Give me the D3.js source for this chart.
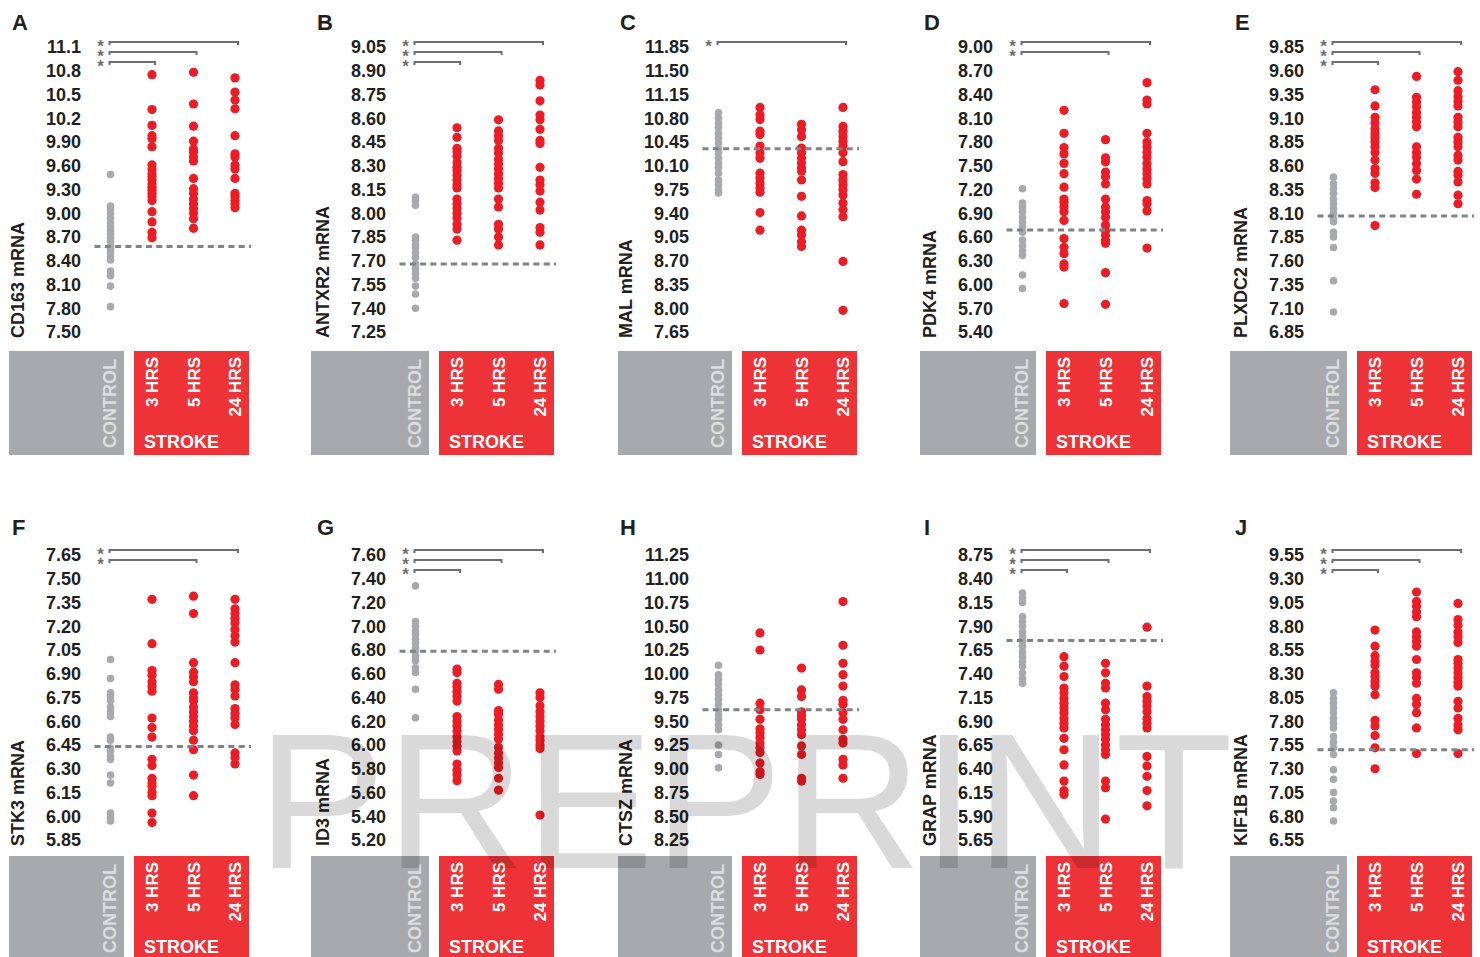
<!DOCTYPE html>
<html>
<head>
<meta charset="utf-8">
<script src="https://cdn.jsdelivr.net/npm/d3@7"></script>
<style>
  body { margin: 0; background: #fff; }
  svg { display: block; font-family: "Liberation Sans", Arial, sans-serif; }
</style>
</head>
<body>
<div id="chart"></div>
<script>
// groups on the x axis of every panel
const groups = ["CONTROL", "3 HRS", "5 HRS", "24 HRS"];
const letters = ["A", "B", "C", "D", "E", "F", "G", "H", "I", "J"];
const genes = ["CD163", "ANTXR2", "MAL", "PDK4", "PLXDC2", "STK3", "ID3", "CTSZ", "GRAP", "KIF1B"];

// tick labels, top to bottom
const ticksCD163 = ["11.1", "10.8", "10.5", "10.2", "9.90", "9.60", "9.30", "9.00", "8.70", "8.40", "8.10", "7.80", "7.50"];
const ticksANTXR2 = ["9.05", "8.90", "8.75", "8.60", "8.45", "8.30", "8.15", "8.00", "7.85", "7.70", "7.55", "7.40", "7.25"];
const ticksMAL = ["11.85", "11.50", "11.15", "10.80", "10.45", "10.10", "9.75", "9.40", "9.05", "8.70", "8.35", "8.00", "7.65"];
const ticksPDK4 = ["9.00", "8.70", "8.40", "8.10", "7.80", "7.50", "7.20", "6.90", "6.60", "6.30", "6.00", "5.70", "5.40"];
const ticksPLXDC2 = ["9.85", "9.60", "9.35", "9.10", "8.85", "8.60", "8.35", "8.10", "7.85", "7.60", "7.35", "7.10", "6.85"];
const ticksSTK3 = ["7.65", "7.50", "7.35", "7.20", "7.05", "6.90", "6.75", "6.60", "6.45", "6.30", "6.15", "6.00", "5.85"];
const ticksID3 = ["7.60", "7.40", "7.20", "7.00", "6.80", "6.60", "6.40", "6.20", "6.00", "5.80", "5.60", "5.40", "5.20"];
const ticksCTSZ = ["11.25", "11.00", "10.75", "10.50", "10.25", "10.00", "9.75", "9.50", "9.25", "9.00", "8.75", "8.50", "8.25"];
const ticksGRAP = ["8.75", "8.40", "8.15", "7.90", "7.65", "7.40", "7.15", "6.90", "6.65", "6.40", "6.15", "5.90", "5.65"];
const ticksKIF1B = ["9.55", "9.30", "9.05", "8.80", "8.55", "8.30", "8.05", "7.80", "7.55", "7.30", "7.05", "6.80", "6.55"];

// mRNA values per group: control, 3 hrs, 5 hrs, 24 hrs
const valuesCD163 = [
  [9.49, 9.09, 9.05, 9.00, 8.94, 8.88, 8.83, 8.78, 8.74, 8.69, 8.65, 8.59, 8.55, 8.50, 8.45, 8.41, 8.27, 8.21, 8.08, 7.82],
  [10.75, 10.31, 10.11, 9.98, 9.94, 9.84, 9.61, 9.56, 9.50, 9.46, 9.42, 9.37, 9.33, 9.29, 9.25, 9.21, 9.16, 9.02, 8.89, 8.76, 8.69],
  [10.78, 10.38, 10.10, 9.91, 9.81, 9.77, 9.71, 9.66, 9.44, 9.31, 9.25, 9.18, 9.12, 9.06, 9.00, 8.93, 8.81],
  [10.71, 10.53, 10.43, 10.32, 9.98, 9.75, 9.71, 9.61, 9.56, 9.44, 9.25, 9.21, 9.16, 9.12, 9.07]
];
const valuesANTXR2 = [
  [8.10, 8.08, 8.05, 7.85, 7.83, 7.80, 7.78, 7.75, 7.72, 7.68, 7.65, 7.62, 7.59, 7.54, 7.49, 7.40],
  [8.54, 8.48, 8.41, 8.39, 8.36, 8.32, 8.29, 8.27, 8.24, 8.21, 8.18, 8.16, 8.09, 8.06, 8.03, 8.00, 7.97, 7.93, 7.90, 7.83],
  [8.59, 8.52, 8.49, 8.46, 8.41, 8.38, 8.34, 8.31, 8.28, 8.25, 8.22, 8.19, 8.16, 8.09, 8.04, 7.93, 7.90, 7.85, 7.80],
  [8.84, 8.81, 8.71, 8.62, 8.59, 8.53, 8.46, 8.44, 8.29, 8.21, 8.18, 8.14, 8.07, 8.02, 7.91, 7.88, 7.80]
];
const valuesMAL = [
  [10.88, 10.80, 10.73, 10.66, 10.58, 10.51, 10.44, 10.36, 10.29, 10.21, 10.14, 10.07, 9.99, 9.89, 9.82, 9.75, 9.70],
  [10.96, 10.85, 10.78, 10.61, 10.56, 10.39, 10.29, 10.21, 9.99, 9.92, 9.84, 9.77, 9.71, 9.41, 9.15],
  [10.71, 10.63, 10.53, 10.36, 10.29, 10.21, 10.14, 10.07, 10.02, 9.89, 9.65, 9.36, 9.15, 9.08, 8.98, 8.91],
  [10.96, 10.68, 10.61, 10.53, 10.46, 10.39, 10.29, 10.16, 9.97, 9.89, 9.82, 9.75, 9.67, 9.55, 9.45, 9.35, 8.69, 7.97]
];
const valuesPDK4 = [
  [7.21, 7.03, 6.98, 6.92, 6.85, 6.79, 6.73, 6.66, 6.56, 6.49, 6.43, 6.37, 6.12, 5.95],
  [8.20, 7.91, 7.73, 7.65, 7.53, 7.40, 7.23, 7.08, 7.04, 6.98, 6.92, 6.81, 6.58, 6.47, 6.39, 6.26, 6.22, 5.76],
  [7.83, 7.60, 7.55, 7.42, 7.36, 7.27, 7.08, 6.98, 6.92, 6.85, 6.75, 6.68, 6.62, 6.56, 6.52, 6.15, 5.75],
  [8.55, 8.33, 8.28, 7.91, 7.80, 7.74, 7.67, 7.61, 7.53, 7.46, 7.40, 7.34, 7.27, 7.06, 7.02, 6.93, 6.46]
];
const valuesPLXDC2 = [
  [8.48, 8.41, 8.36, 8.31, 8.25, 8.20, 8.15, 8.10, 8.04, 8.01, 7.90, 7.85, 7.74, 7.39, 7.06],
  [9.40, 9.23, 9.11, 9.05, 8.99, 8.94, 8.90, 8.85, 8.80, 8.74, 8.66, 8.57, 8.52, 8.42, 8.37, 7.97],
  [9.54, 9.32, 9.27, 9.22, 9.16, 9.11, 9.06, 9.01, 8.80, 8.74, 8.69, 8.62, 8.55, 8.46, 8.30],
  [9.59, 9.50, 9.39, 9.33, 9.28, 9.23, 9.11, 9.06, 9.01, 8.90, 8.85, 8.80, 8.71, 8.66, 8.54, 8.50, 8.43, 8.29, 8.20]
];
const valuesSTK3 = [
  [6.99, 6.87, 6.78, 6.76, 6.73, 6.69, 6.66, 6.63, 6.50, 6.48, 6.43, 6.41, 6.38, 6.36, 6.26, 6.21, 6.02, 5.99, 5.97],
  [7.37, 7.09, 6.92, 6.89, 6.85, 6.82, 6.79, 6.62, 6.56, 6.50, 6.36, 6.32, 6.24, 6.21, 6.19, 6.15, 6.13, 6.02, 5.96],
  [7.39, 7.28, 6.97, 6.91, 6.88, 6.85, 6.78, 6.75, 6.73, 6.69, 6.66, 6.63, 6.60, 6.57, 6.54, 6.48, 6.42, 6.26, 6.13],
  [7.37, 7.31, 7.28, 7.25, 7.22, 7.18, 7.14, 7.10, 6.97, 6.83, 6.80, 6.76, 6.68, 6.65, 6.62, 6.58, 6.40, 6.37, 6.33]
];
const valuesID3 = [
  [7.34, 7.04, 7.00, 6.96, 6.93, 6.89, 6.86, 6.82, 6.79, 6.75, 6.71, 6.65, 6.61, 6.47, 6.23],
  [6.64, 6.61, 6.52, 6.49, 6.45, 6.41, 6.37, 6.24, 6.20, 6.16, 6.12, 6.07, 6.03, 5.99, 5.95, 5.84, 5.79, 5.75, 5.70],
  [6.51, 6.47, 6.29, 6.26, 6.21, 6.17, 6.13, 6.09, 6.05, 5.98, 5.93, 5.89, 5.85, 5.81, 5.72, 5.62],
  [6.44, 6.40, 6.33, 6.28, 6.24, 6.20, 6.16, 6.12, 6.07, 6.04, 6.00, 5.97, 5.41]
];
const valuesCTSZ = [
  [10.09, 9.99, 9.94, 9.89, 9.83, 9.78, 9.73, 9.68, 9.62, 9.57, 9.52, 9.46, 9.41, 9.25, 9.15, 9.01],
  [10.43, 10.25, 9.69, 9.62, 9.52, 9.42, 9.38, 9.33, 9.27, 9.22, 9.17, 9.06, 8.97, 8.94],
  [10.06, 9.83, 9.76, 9.60, 9.56, 9.52, 9.46, 9.41, 9.36, 9.24, 9.15, 8.90, 8.87],
  [10.76, 10.30, 10.11, 9.99, 9.87, 9.72, 9.68, 9.59, 9.52, 9.41, 9.31, 9.27, 9.10, 9.04, 8.90]
];
const valuesGRAP = [
  [8.25, 8.20, 8.15, 8.00, 7.95, 7.90, 7.84, 7.79, 7.74, 7.69, 7.63, 7.58, 7.53, 7.48, 7.41, 7.35, 7.30],
  [7.58, 7.48, 7.37, 7.25, 7.20, 7.14, 7.09, 7.04, 6.99, 6.93, 6.88, 6.83, 6.72, 6.60, 6.44, 6.27, 6.17, 6.13],
  [7.51, 7.41, 7.30, 7.25, 7.09, 7.02, 6.92, 6.86, 6.81, 6.76, 6.71, 6.65, 6.60, 6.55, 6.27, 6.20, 5.87],
  [7.89, 7.27, 7.16, 7.11, 7.06, 7.00, 6.93, 6.88, 6.83, 6.53, 6.43, 6.32, 6.17, 6.01]
];
const valuesKIF1B = [
  [8.10, 8.04, 7.99, 7.94, 7.89, 7.83, 7.78, 7.73, 7.64, 7.58, 7.52, 7.45, 7.29, 7.19, 7.05, 6.96, 6.89, 6.75],
  [8.76, 8.59, 8.49, 8.43, 8.39, 8.31, 8.27, 8.22, 8.17, 8.08, 7.81, 7.75, 7.65, 7.52, 7.30],
  [9.16, 9.06, 9.01, 8.95, 8.90, 8.74, 8.69, 8.64, 8.59, 8.45, 8.31, 8.26, 8.20, 8.04, 7.98, 7.89, 7.73, 7.46],
  [9.04, 8.87, 8.81, 8.74, 8.69, 8.63, 8.45, 8.41, 8.36, 8.31, 8.26, 8.21, 8.17, 8.01, 7.94, 7.83, 7.76, 7.71, 7.46]
];

// dashed reference line per panel
const cutoffs = [8.58, 7.68, 10.35, 6.69, 8.07, 6.44, 6.79, 9.62, 7.75, 7.50];
// stroke groups significantly different from control (index into groups)
const significant = [[1, 2, 3], [1, 2, 3], [3], [2, 3], [1, 2, 3], [2, 3], [1, 2, 3], [], [1, 2, 3], [1, 2, 3]];

const allTicks = [ticksCD163, ticksANTXR2, ticksMAL, ticksPDK4, ticksPLXDC2, ticksSTK3, ticksID3, ticksCTSZ, ticksGRAP, ticksKIF1B];
const allValues = [valuesCD163, valuesANTXR2, valuesMAL, valuesPDK4, valuesPLXDC2, valuesSTK3, valuesID3, valuesCTSZ, valuesGRAP, valuesKIF1B];

var width = 1480;
var height = 957;
var greyLeft = [9, 311, 618, 920, 1230];
var redLeft = [134, 439, 742, 1046, 1357];
var rows = [
  { letterY: 30, axisTop: 47, axisBottom: 332, titleY: 338, bracketY: 42, boxTop: 351 },
  { letterY: 535, axisTop: 555, axisBottom: 840, titleY: 846, bracketY: 550, boxTop: 856 }
];

var cGreyBox = "#a7a9ac";
var cRedBox = "#ee3338";
var cRedDot = "#ed1c24";
var cGreyDot = "#a7a9ac";
var cText = "#231f20";
var cBracket = "#6d6e71";

var svg = d3.select("#chart").append("svg")
  .attr("width", width)
  .attr("height", height);

letters.forEach((letter, p) => {
  var row = rows[Math.floor(p / 5)];
  var gx = greyLeft[p % 5];
  var rx = redLeft[p % 5];
  var ticks = allTicks[p];
  var values = allValues[p];

  var n = ticks.length;
  var lo = parseFloat(ticks[n - 1]);
  var step = parseFloat(ticks[n - 2]) - lo;
  var hi = lo + step * (n - 1);
  var tickVals = ticks.map((t, i) => hi - step * i);

  var y = d3.scaleLinear().domain([lo, hi]).range([row.axisBottom, row.axisTop]);
  var x = d3.scalePoint().domain(groups).range([rx - 23.5, rx + 101]);

  var g = svg.append("g").attr("class", "panel");

  // panel letter
  g.append("text")
    .attr("x", rx - 122)
    .attr("y", row.letterY)
    .style("font-size", "22px")
    .style("font-weight", "bold")
    .style("fill", cText)
    .text(letter);

  // y axis labels only
  var axis = g.append("g")
    .attr("transform", "translate(" + (rx - 53) + ",0)")
    .call(d3.axisLeft(y).tickValues(tickVals).tickSize(0).tickPadding(0).tickFormat((d, i) => ticks[i]));
  axis.select(".domain").remove();
  axis.selectAll("text")
    .style("font-size", "18px")
    .style("font-weight", "bold")
    .style("font-family", "'Liberation Sans', Arial, sans-serif")
    .style("fill", cText);

  // axis title
  g.append("text")
    .attr("transform", "translate(" + (rx - 110.5) + "," + row.titleY + ") rotate(-90)")
    .style("font-size", "18px")
    .style("font-weight", "bold")
    .style("fill", cText)
    .text(genes[p] + " mRNA");

  // group boxes
  g.append("rect")
    .attr("x", gx).attr("y", row.boxTop)
    .attr("width", rx - 10 - gx).attr("height", 104)
    .style("fill", cGreyBox);
  g.append("rect")
    .attr("x", rx).attr("y", row.boxTop)
    .attr("width", 115).attr("height", 104)
    .style("fill", cRedBox);

  g.append("text")
    .attr("transform", "translate(" + (x(groups[0]) + 5) + "," + (row.boxTop + 97) + ") rotate(-90)")
    .style("font-size", "18px")
    .style("font-weight", "bold")
    .style("fill", "#dcdddf")
    .text(groups[0]);

  groups.slice(1).forEach(grp => {
    g.append("text")
      .attr("transform", "translate(" + (x(grp) + 6) + "," + (row.boxTop + 6) + ") rotate(-90)")
      .attr("text-anchor", "end")
      .style("font-size", "17px")
      .style("font-weight", "bold")
      .style("fill", "#fff")
      .text(grp);
  });

  g.append("text")
    .attr("x", rx + 10)
    .attr("y", row.boxTop + 97)
    .style("font-size", "18px")
    .style("font-weight", "bold")
    .style("fill", "#fff")
    .text("STROKE");

  // dots
  groups.forEach((grp, gi) => {
    g.append("g").selectAll("circle")
      .data(values[gi])
      .enter()
      .append("circle")
      .attr("cx", x(grp))
      .attr("cy", d => y(d))
      .attr("r", gi === 0 ? 3.8 : 4.6)
      .style("fill", gi === 0 ? cGreyDot : cRedDot);
  });

  // dashed reference line
  g.append("line")
    .attr("x1", x(groups[0]) - 16)
    .attr("x2", rx + 117)
    .attr("y1", y(cutoffs[p]))
    .attr("y2", y(cutoffs[p]))
    .style("stroke", "#808285")
    .style("stroke-width", 3)
    .style("stroke-dasharray", "6,4.3");

  // significance brackets
  significant[p].forEach(gi => {
    var by = row.bracketY + (3 - gi) * 10;
    var x0 = x(groups[0]) - 1;
    var x1 = x(groups[gi]) + 3;
    g.append("path")
      .attr("d", "M" + x0 + "," + (by + 3) + "V" + by + "H" + x1 + "V" + (by + 3))
      .style("fill", "none")
      .style("stroke", cBracket)
      .style("stroke-width", 2);
    g.append("text")
      .attr("x", x0 - 9)
      .attr("y", by + 10)
      .attr("text-anchor", "middle")
      .style("font-size", "17px")
      .style("font-weight", "bold")
      .style("fill", cBracket)
      .text("*");
  });
});

// watermark
svg.append("text")
  .attr("x", 257)
  .attr("y", 868)
  .style("font-size", "193px")
  .style("fill", "#000")
  .style("fill-opacity", 0.15)
  .text("PREPRINT");
</script>
</body>
</html>
